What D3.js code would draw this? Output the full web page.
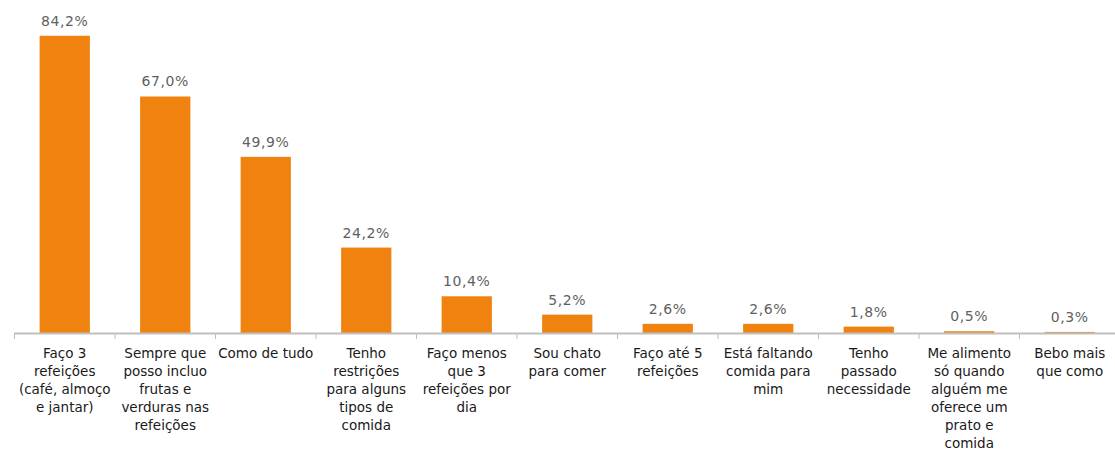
<!DOCTYPE html>
<html>
<head>
<meta charset="utf-8">
<script src="https://cdn.jsdelivr.net/npm/d3@7"></script>
<style>
  html, body { margin: 0; padding: 0; background: #fff; }
  svg { display: block; }
</style>
</head>
<body>
<svg id="chart" width="1115" height="450"></svg>
<script>
// Category labels (line breaks as they wrap under each bar)
const categories = [
  "Faço 3\nrefeições\n(café, almoço\ne jantar)",
  "Sempre que\nposso incluo\nfrutas e\nverduras nas\nrefeições",
  "Como de tudo",
  "Tenho\nrestrições\npara alguns\ntipos de\ncomida",
  "Faço menos\nque 3\nrefeições por\ndia",
  "Sou chato\npara comer",
  "Faço até 5\nrefeições",
  "Está faltando\ncomida para\nmim",
  "Tenho\npassado\nnecessidade",
  "Me alimento\nsó quando\nalguém me\noferece um\nprato e\ncomida",
  "Bebo mais\nque como"
];

// Share of respondents (%)
const values = [84.2, 67.0, 49.9, 24.2, 10.4, 5.2, 2.6, 2.6, 1.8, 0.5, 0.3];

const svg = d3.select("#chart");
const baseY = 333;

const x = d3.scaleBand()
  .domain(d3.range(categories.length))
  .range([14.5, 1120])
  .paddingInner(0.5)
  .paddingOuter(0.25);

const y = d3.scaleLinear()
  .domain([0, 90])
  .range([baseY, baseY - 90 * 3.53]);

const fmt = v => d3.format(".1f")(v).replace(".", ",") + "%";

// Bars
svg.append("g").selectAll("rect")
  .data(values)
  .join("rect")
  .attr("x", (d, i) => x(i))
  .attr("y", d => y(d))
  .attr("width", x.bandwidth())
  .attr("height", d => baseY - y(d))
  .attr("fill", "#F0820F");

// Value labels
svg.append("g").selectAll("text")
  .data(values)
  .join("text")
  .attr("x", (d, i) => x(i) + x.bandwidth() / 2)
  .attr("y", d => y(d) - 10)
  .attr("text-anchor", "middle")
  .attr("font-family", "DejaVu Sans, sans-serif")
  .attr("font-size", "14px")
  .attr("letter-spacing", "0.6px")
  .attr("fill", "#5f5f5f")
  .text(d => fmt(d));

// Category axis: baseline with tick marks at category boundaries
const step = x.step();
const left = 14.5;
const axis = svg.append("g");
axis.append("line")
  .attr("x1", left).attr("x2", 1120)
  .attr("y1", baseY + 0.5).attr("y2", baseY + 0.5)
  .attr("stroke", "#BFBFBF").attr("stroke-width", 2);
axis.selectAll("line.tick")
  .data(d3.range(categories.length + 1))
  .join("line")
  .attr("class", "tick")
  .attr("x1", i => left + i * step).attr("x2", i => left + i * step)
  .attr("y1", baseY).attr("y2", baseY + 6)
  .attr("stroke", "#BFBFBF").attr("stroke-width", 1);

// Category labels
const labels = svg.append("g").selectAll("text")
  .data(categories)
  .join("text")
  .attr("text-anchor", "middle")
  .attr("font-family", "DejaVu Sans, sans-serif")
  .attr("font-size", "13.5px")
  .attr("fill", "#1a1a1a")
  .attr("transform", (d, i) => `translate(${x(i) + x.bandwidth() / 2},358)`);

labels.selectAll("tspan")
  .data(d => d.split("\n"))
  .join("tspan")
  .attr("x", 0)
  .attr("y", (d, j) => j * 17.9)
  .text(d => d);
</script>
</body>
</html>
